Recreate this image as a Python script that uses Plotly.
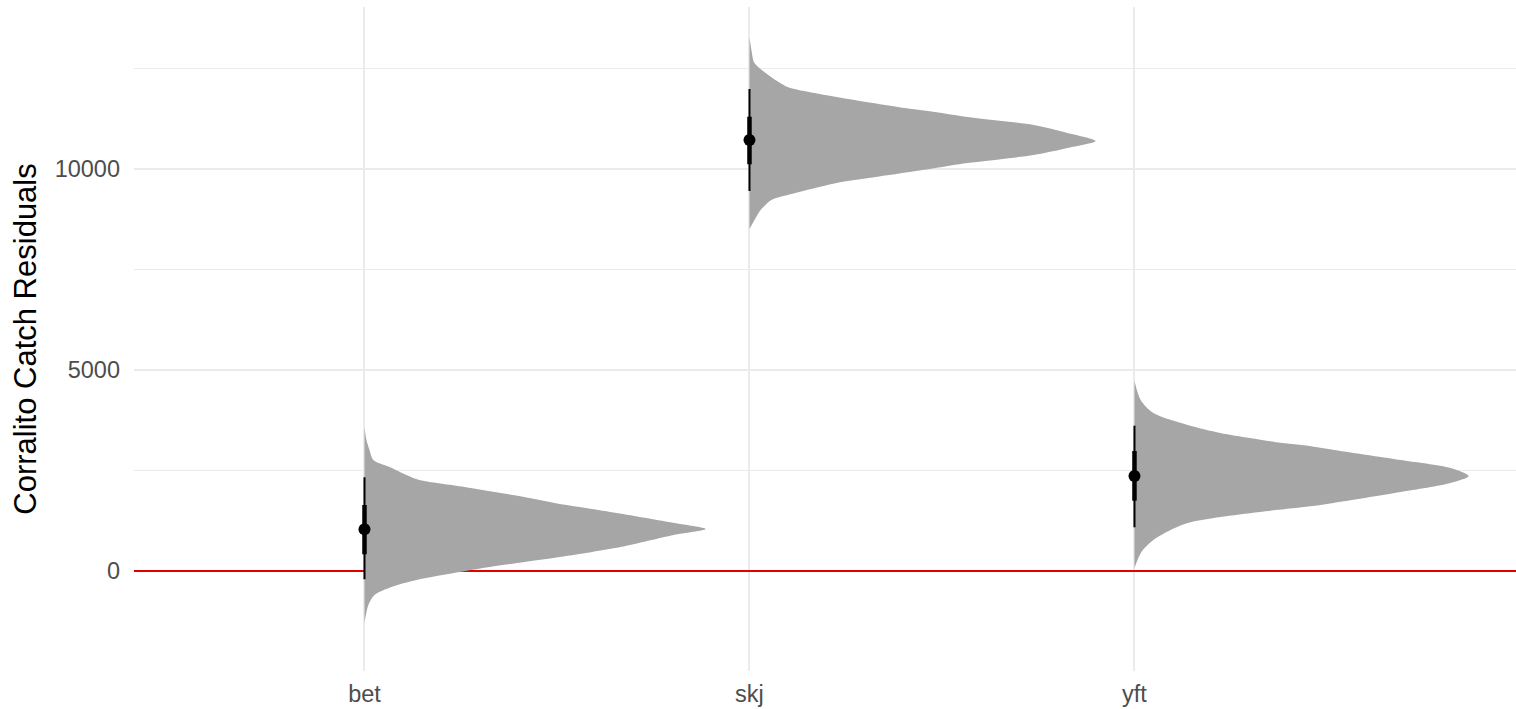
import plotly.graph_objects as go

# ---------------- data ----------------
categories = ["bet", "skj", "yft"]

# density profile of each posterior residual (value, scaled density height in category units)
bet_vals = [3582, 3259, 3010, 2761, 2587, 2388, 2264, 2090, 1816, 1692, 1443, 1194, 1045,
            896, 597, 323, 224, 100, -25, -224, -398, -597, -846, -1294]
bet_dens = [0.0, 0.005, 0.013, 0.023, 0.065, 0.109, 0.143, 0.260, 0.429, 0.494, 0.655, 0.805, 0.886,
            0.803, 0.665, 0.491, 0.416, 0.325, 0.247, 0.135, 0.070, 0.026, 0.010, 0.0]

skj_vals = [13284, 12960, 12637, 12338, 12040, 11891, 11717, 11518, 11418, 11294, 11095, 10896, 10697,
            10523, 10348, 10149, 10025, 9926, 9776, 9677, 9528, 9353, 9229, 8980, 8731, 8508]
skj_dens = [0.0, 0.005, 0.013, 0.049, 0.099, 0.169, 0.273, 0.403, 0.481, 0.566, 0.738, 0.826, 0.899,
            0.826, 0.738, 0.566, 0.483, 0.416, 0.309, 0.239, 0.171, 0.099, 0.057, 0.029, 0.013, 0.0]

yft_vals = [4726, 4254, 3930, 3632, 3433, 3309, 3209, 3110, 3010, 2886, 2761, 2562, 2363,
            2189, 1965, 1692, 1642, 1468, 1343, 1194, 1020, 771, 473, 75]
yft_dens = [0.0, 0.016, 0.049, 0.138, 0.223, 0.299, 0.364, 0.455, 0.519, 0.605, 0.691, 0.821, 0.868,
            0.821, 0.691, 0.517, 0.483, 0.325, 0.223, 0.138, 0.094, 0.049, 0.018, 0.0]

# point intervals: median, 66% interval, 95% interval
medians = [1037, 10722, 2363]
lo66 = [415, 10117, 1749]
hi66 = [1642, 11301, 2985]
lo95 = [-206, 9453, 1087]
hi95 = [2331, 11990, 3615]

y_ticks = [0, 5000, 10000]
y_minor = [2500, 7500, 12500]
ref_value = 0

# ---------------- figure ----------------
x_range = [-0.5987, 2.991]
y_range = [-2488, 14030]
slab_color = "#A6A6A6"
grid_color = "#EBEBEB"

fig = go.Figure()

# reference line at 0
fig.add_trace(go.Scatter(x=x_range, y=[ref_value, ref_value], mode="lines",
                         line=dict(color="#E00000", width=2), hoverinfo="skip", showlegend=False))

slabs = [(bet_vals, bet_dens), (skj_vals, skj_dens), (yft_vals, yft_dens)]
for i, (vals, dens) in enumerate(slabs):
    xs = [i + d for d in dens]
    fig.add_trace(go.Scatter(x=xs, y=vals, mode="lines", fill="toself",
                             fillcolor=slab_color,
                             line=dict(width=0, color=slab_color, shape="spline", smoothing=0.8),
                             hoverinfo="skip", showlegend=False))

for i in range(len(categories)):
    fig.add_trace(go.Scatter(x=[i, i], y=[lo95[i], hi95[i]], mode="lines",
                             line=dict(color="black", width=2), showlegend=False))
    fig.add_trace(go.Scatter(x=[i, i], y=[lo66[i], hi66[i]], mode="lines",
                             line=dict(color="black", width=4.5), showlegend=False))
fig.add_trace(go.Scatter(x=list(range(len(categories))), y=medians, mode="markers",
                         marker=dict(color="black", size=12), showlegend=False))

fig.update_layout(
    width=1516, height=709,
    margin=dict(l=134, r=0, t=7, b=38, autoexpand=False),
    paper_bgcolor="white", plot_bgcolor="white",
    font=dict(family="Liberation Sans, Arial, sans-serif"),
    showlegend=False,
)
fig.update_xaxes(
    range=x_range, tickmode="array", tickvals=list(range(len(categories))), ticktext=categories,
    showgrid=True, gridcolor=grid_color, gridwidth=2.4, zeroline=False, showline=False,
    ticks="", tickfont=dict(size=23.5, color="#4D4D4D"), ticklabelstandoff=6, automargin=False,
)
fig.update_yaxes(
    range=y_range, tickmode="array", tickvals=y_ticks, ticktext=[str(v) for v in y_ticks],
    showgrid=True, gridcolor=grid_color, gridwidth=2.4, zeroline=False, showline=False,
    ticks="", tickfont=dict(size=23.5, color="#4D4D4D"), ticklabelstandoff=13, automargin=False,
    minor=dict(tickvals=y_minor, showgrid=True, gridcolor=grid_color, gridwidth=1.3, ticks=""),
    title=dict(text="Corralito Catch Residuals", font=dict(size=31, color="black"), standoff=8),
)

fig.write_html("out.html", config={"displayModeBar": False},
               post_script="document.body.style.margin='0px';document.body.style.overflow='hidden';")
